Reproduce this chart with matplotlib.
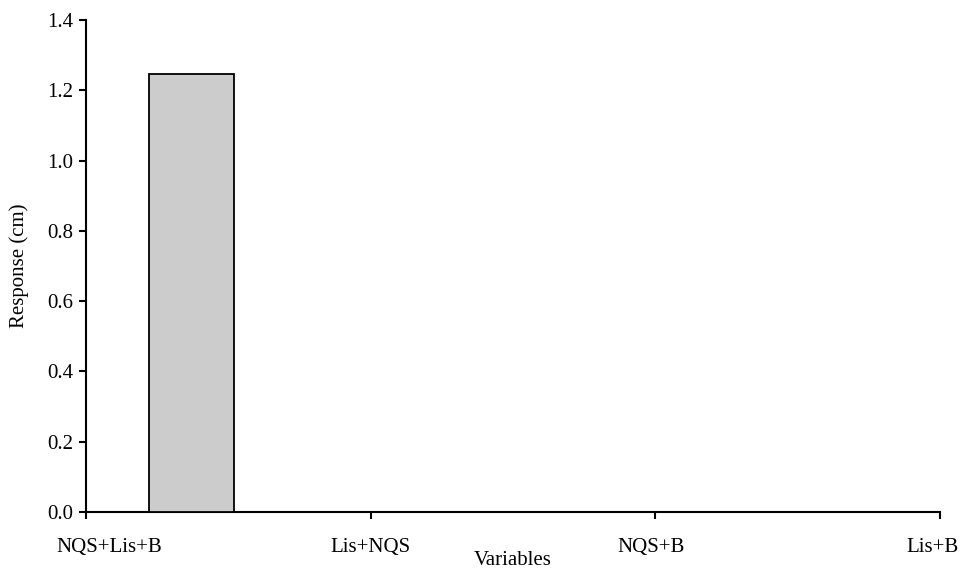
import matplotlib
matplotlib.use('Agg')
import matplotlib.pyplot as plt
import numpy as np

# data
categories = ['NQS+Lis+B', 'Lis+NQS', 'NQS+B', 'Lis+B']
response = [1.245, 0.0, 0.0, 0.0]
y_ticks = [0.0, 0.2, 0.4, 0.6, 0.8, 1.0, 1.2, 1.4]

plt.rcParams['font.family'] = ['Liberation Serif', 'DejaVu Serif']
fs = 15

fig = plt.figure(figsize=(9.61, 5.69), dpi=100)
ax = fig.add_axes([0.0895, 0.1002, 0.8885, 0.8647])

pos = np.arange(len(categories))
ax.bar(pos + 0.37, response, width=0.30, color='#cccccc',
       edgecolor='black', linewidth=1.3, zorder=3)

ax.set_xlim(0, len(categories) - 1)
ax.set_ylim(0, 1.4)
ax.set_xticks(pos)
ax.set_xticklabels([])
ax.set_yticks(y_ticks)
ax.set_yticklabels(['%.1f' % v for v in y_ticks], fontsize=fs)

# category labels placed like the original (first nudged right, last pulled in)
shifts = [17, 0, -3, -5]
for p, name, dx in zip(pos, categories, shifts):
    ax.annotate(name, xy=(p, 0), xycoords=('data', 'axes fraction'),
                xytext=(dx, -25.5), textcoords='offset points',
                ha='center', va='center', fontsize=fs)

for s in ['top', 'right']:
    ax.spines[s].set_visible(False)
for s in ['left', 'bottom']:
    ax.spines[s].set_linewidth(1.5)
ax.tick_params(axis='both', direction='out', length=5, width=1.5)
ax.tick_params(axis='y', pad=4)

ax.set_xlabel('Variables', fontsize=fs)
ax.xaxis.set_label_coords(0.5, -0.079)
ax.set_ylabel('Response (cm)', fontsize=fs, labelpad=13)

plt.savefig('out.png', dpi=100)
